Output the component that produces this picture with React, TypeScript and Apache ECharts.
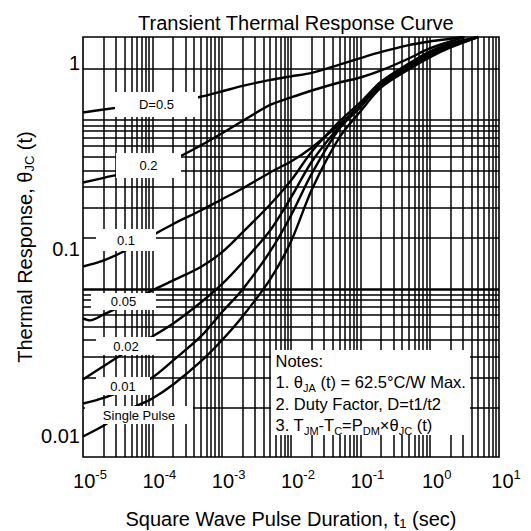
import React, { useEffect, useRef } from 'react';
import * as echarts from 'echarts';

const FONT = '"Liberation Sans", Arial, Helvetica, sans-serif';

const TITLE = 'Transient Thermal Response Curve';
const X_NAME = '{a|Square Wave Pulse Duration, t}{s|1}{a| (sec)}';
const Y_NAME = '{a|Thermal Response, θ}{s|JC}{a| (t)}';

// pulse durations (s)
const T_STD = [1e-5, 2e-5, 5e-5, 1e-4, 2e-4, 5e-4, 1e-3, 2e-3, 5e-3, 1e-2, 2e-2, 5e-2, 0.1, 0.2, 0.5, 1, 2];
const T_D05 = [...T_STD, 3];
const T_D02 = [...T_STD, 3.2];
const T_LOW = [...T_STD, 5];
const T_D005 = [1e-5, 1.26e-5, 2e-5, 5e-5, 1e-4, 2e-4, 5e-4, 1e-3, 2e-3, 5e-3, 1e-2, 2e-2, 5e-2, 0.1, 0.2, 0.5, 1, 2, 5];

// thermal response values
const Y_D05 = [0.549, 0.572, 0.6, 0.621, 0.644, 0.68, 0.73, 0.787, 0.854, 0.897, 0.939, 1.05, 1.148, 1.249, 1.371, 1.44, 1.494, 1.53];
const Y_D02 = [0.212, 0.226, 0.246, 0.267, 0.29, 0.351, 0.413, 0.489, 0.608, 0.673, 0.74, 0.825, 0.883, 0.972, 1.143, 1.31, 1.44, 1.53];
const Y_D01 = [0.0678, 0.0736, 0.0878, 0.1034, 0.1208, 0.1451, 0.1685, 0.1957, 0.2432, 0.2822, 0.3414, 0.4666, 0.604, 0.792, 1.012, 1.191, 1.346, 1.53];
const Y_D005 = [0.0335, 0.0326, 0.0354, 0.0422, 0.049, 0.0561, 0.0674, 0.082, 0.1076, 0.1574, 0.218, 0.323, 0.486, 0.629, 0.836, 1.068, 1.257, 1.402, 1.53];
const Y_D002 = [0.01462, 0.01756, 0.02227, 0.02622, 0.03128, 0.0416, 0.0531, 0.0716, 0.1106, 0.1731, 0.282, 0.454, 0.604, 0.825, 1.054, 1.24, 1.383, 1.53];
const Y_D001 = [0.01055, 0.01138, 0.01312, 0.01502, 0.01893, 0.02622, 0.03632, 0.04964, 0.0832, 0.1356, 0.24, 0.442, 0.588, 0.814, 1.04, 1.224, 1.364, 1.53];
const Y_SINGLE = [0.00674, 0.00783, 0.00986, 0.0113, 0.01366, 0.01868, 0.02483, 0.0344, 0.0569, 0.0953, 0.193, 0.391, 0.557, 0.771, 0.985, 1.159, 1.327, 1.53];

// axis ranges
const X_MIN = 1e-5;
const X_MAX = 10;
const Y_MIN = 0.0051;
const Y_MAX = 1.53;
// range of the (offset) tick-label axis as printed on the reference
const YL_MIN = 0.0077;
const YL_MAX = 1.375;

// grid lines of the reference
const X_GRID_MANTISSA = [1, 2, 3, 4, 5, 6, 7, 8, 9];
const X_GRID_DECADES = [-5, -4, -3, -2, -1, 0];
const Y_GRID = [1, 0.5, 0.46, 0.43, 0.39, 0.35, 0.3, 0.25, 0.2, 0.15, 0.1, 0.046, 0.043, 0.039, 0.035, 0.03, 0.025, 0.02, 0.015, 0.01];
const Y_GRID_BOLD = [0.05];

const CURVE_LABELS = ['D=0.5', '0.2', '0.1', '0.05', '0.02', '0.01', 'Single Pulse'];
const NOTES = '{a|Notes:}\n{a|1. θ}{s|JA}{a| (t) = 62.5°C/W Max.}\n{a|2. Duty Factor, D=t1/t2}\n{a|3. T}{s|JM}{a|-T}{s|C}{a|=P}{s|DM}{a|×θ}{s|JC}{a| (t)}';

// label box layout (pixels)
const LABEL_BOXES = [
  { x: 115, y: 92, w: 83, h: 25 },
  { x: 116, y: 153, w: 65, h: 25 },
  { x: 96, y: 229, w: 60, h: 22 },
  { x: 91, y: 293, w: 65, h: 17 },
  { x: 96, y: 337, w: 60, h: 18 },
  { x: 96, y: 377, w: 54, h: 18 },
  { x: 85, y: 406, w: 108, h: 18 },
];

function curve(name: string, t: number[], y: number[]) {
  return {
    name,
    type: 'line',
    data: t.map((v, i) => [v, y[i]]),
    smooth: 0.3,
    showSymbol: false,
    symbol: 'none',
    silent: true,
    z: 3,
    lineStyle: { color: '#000', width: 2.4 },
  };
}

function buildOption() {
  const vert: number[] = [];
  X_GRID_DECADES.forEach((d) => X_GRID_MANTISSA.forEach((m) => {
    if (!(d === -5 && m === 1)) vert.push(m * Math.pow(10, d));
  }));

  const lineData: any[] = [
    ...vert.map((v) => ({ xAxis: v })),
    ...Y_GRID.map((v) => ({ yAxis: v })),
    ...Y_GRID_BOLD.map((v) => ({ yAxis: v, lineStyle: { width: 2.6, color: '#000', type: 'solid' } })),
  ];

  const graphics: any[] = [];
  LABEL_BOXES.forEach((b, i) => {
    graphics.push({
      type: 'rect', z: 100, silent: true,
      shape: { x: b.x, y: b.y, width: b.w, height: b.h },
      style: { fill: '#fff' },
    });
    graphics.push({
      type: 'text', z: 101, silent: true,
      x: b.x + b.w / 2, y: b.y + b.h / 2,
      style: {
        text: CURVE_LABELS[i], fill: '#000', font: `13px ${FONT}`,
        align: 'center', verticalAlign: 'middle', textAlign: 'center', textVerticalAlign: 'middle',
      },
    });
  });
  graphics.push({
    type: 'rect', z: 100, silent: true,
    shape: { x: 271, y: 350, width: 199, height: 85 },
    style: { fill: '#fff' },
  });
  graphics.push({
    type: 'text', z: 101, silent: true,
    x: 275.5, y: 350,
    style: {
      text: NOTES,
      align: 'left', verticalAlign: 'top', textAlign: 'left', textVerticalAlign: 'top',
      rich: {
        a: { fontFamily: FONT, fontSize: 16.5, lineHeight: 21.5, fill: '#000', color: '#000' },
        s: { fontFamily: FONT, fontSize: 11, lineHeight: 12, verticalAlign: 'bottom', fill: '#000', color: '#000' },
      },
    },
  });

  const isPow10 = (v: number) => Math.abs(Math.log10(v) - Math.round(Math.log10(v))) < 1e-6;

  return {
    animation: false,
    backgroundColor: '#fff',
    title: {
      text: TITLE, left: 133, top: 8,
      textStyle: { fontFamily: FONT, fontSize: 20, fontWeight: 'normal', color: '#000' },
    },
    grid: {
      left: 83, right: 32, top: 37, bottom: 74,
      show: true, borderColor: '#000', borderWidth: 1.6, backgroundColor: 'transparent',
      containLabel: false, outerBoundsMode: 'none',
    },
    xAxis: {
      type: 'log', logBase: 10, min: X_MIN, max: X_MAX,
      name: X_NAME, nameLocation: 'middle', nameGap: 51,
      nameTextStyle: {
        rich: {
          a: { fontFamily: FONT, fontSize: 20, lineHeight: 22, color: '#000' },
          s: { fontFamily: FONT, fontSize: 13, lineHeight: 12, verticalAlign: 'bottom', color: '#000' },
        },
      },
      axisLine: { show: false }, axisTick: { show: false }, splitLine: { show: false }, minorSplitLine: { show: false },
      axisLabel: {
        margin: 11,
        formatter: (v: number) => `{b|10}{s|${Math.round(Math.log10(v))}}`,
        rich: {
          b: { fontFamily: FONT, fontSize: 20, lineHeight: 26, color: '#000', padding: [0, 0, 0, 14] },
          s: { fontFamily: FONT, fontSize: 13, lineHeight: 12, verticalAlign: 'top', color: '#000' },
        },
      },
    },
    yAxis: [
      {
        type: 'log', logBase: 10, min: Y_MIN, max: Y_MAX,
        name: Y_NAME, nameLocation: 'middle', nameGap: 47, nameRotate: 90,
        nameTextStyle: {
          rich: {
            a: { fontFamily: FONT, fontSize: 20, lineHeight: 22, color: '#000' },
            s: { fontFamily: FONT, fontSize: 13, lineHeight: 12, verticalAlign: 'bottom', color: '#000' },
          },
        },
        axisLine: { show: false }, axisTick: { show: false }, splitLine: { show: false },
        axisLabel: { show: false },
      },
      {
        type: 'log', logBase: 10, min: YL_MIN, max: YL_MAX, position: 'left',
        axisLine: { show: false }, axisTick: { show: false }, splitLine: { show: false },
        axisLabel: {
          margin: 3, fontFamily: FONT, fontSize: 20, color: '#000',
          formatter: (v: number) => {
            if (!isPow10(v)) return '';
            const e = Math.round(Math.log10(v));
            return Math.pow(10, e).toFixed(Math.max(0, -e));
          },
        },
      },
    ],
    series: [
      {
        type: 'line', data: [], silent: true, z: 1,
        markLine: {
          silent: true, symbol: ['none', 'none'], animation: false,
          precision: 10,
          label: { show: false },
          emphasis: { disabled: true },
          lineStyle: { color: '#000', width: 1.5, type: 'solid' },
          data: lineData,
        },
      },
      curve('D=0.5', T_D05, Y_D05),
      curve('D=0.2', T_D02, Y_D02),
      curve('D=0.1', T_LOW, Y_D01),
      curve('D=0.05', T_D005, Y_D005),
      curve('D=0.02', T_LOW, Y_D002),
      curve('D=0.01', T_LOW, Y_D001),
      curve('Single Pulse', T_LOW, Y_SINGLE),
    ],
    graphic: graphics,
  };
}

export default function App() {
  const ref = useRef<HTMLDivElement>(null);
  useEffect(() => {
    if (!ref.current) return;
    const chart = echarts.init(ref.current, null, { renderer: 'svg' });
    chart.setOption(buildOption() as any);
    return () => chart.dispose();
  }, []);
  return (
    <div
      ref={ref}
      style={{ position: 'fixed', left: 0, top: 0, width: 531, height: 531, background: '#fff' }}
    />
  );
}
